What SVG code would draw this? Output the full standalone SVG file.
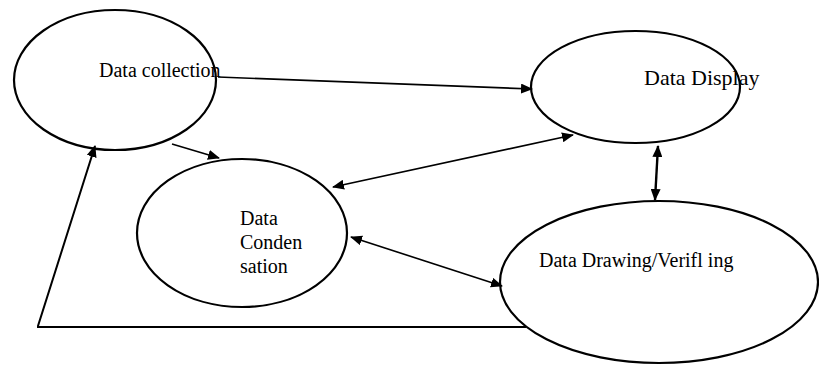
<svg xmlns="http://www.w3.org/2000/svg" width="819" height="365" viewBox="0 0 819 365">
<style>
.node{fill:#fff;stroke:#000;stroke-width:2.2}
.lbl{font-family:"Liberation Serif","Times New Roman",serif;font-size:20px;fill:#000}
.c{stroke:#000;stroke-width:1.6;fill:none}
</style>
<defs>
<marker id="ah" viewBox="0 0 12 10" refX="11" refY="5" markerWidth="12" markerHeight="10" markerUnits="userSpaceOnUse" orient="auto-start-reverse">
<path d="M0,0 L12,5 L0,10 Z" fill="#000"/>
</marker>
</defs>
<g id="n-collection">
<ellipse class="node" cx="115" cy="80" rx="101" ry="70"/>
<text class="lbl" x="99" y="77">Data collection</text>
</g>
<g id="n-display">
<ellipse class="node" cx="635.5" cy="87" rx="104.5" ry="56"/>
<text class="lbl" x="644" y="85" style="font-size:22px">Data Display</text>
</g>
<g id="n-condensation">
<ellipse class="node" cx="242" cy="233" rx="105" ry="74"/>
<text class="lbl" x="240" y="225">Data</text>
<text class="lbl" x="240" y="249">Conden</text>
<text class="lbl" x="240" y="273">sation</text>
</g>
<g id="n-drawing">
<ellipse class="node" cx="659" cy="282" rx="159" ry="81"/>
<text class="lbl" x="539" y="267">Data Drawing/Verifl ing</text>
</g>
<g id="connectors">
<line class="c" x1="218" y1="77" x2="532" y2="89" marker-end="url(#ah)"/>
<line class="c" x1="172" y1="144" x2="219" y2="158" marker-end="url(#ah)"/>
<line class="c" x1="573" y1="135" x2="333" y2="187" marker-start="url(#ah)" marker-end="url(#ah)"/>
<line class="c" x1="351" y1="237" x2="502" y2="286" marker-start="url(#ah)" marker-end="url(#ah)"/>
<line class="c" style="stroke-width:2.4" x1="658" y1="146" x2="655" y2="200" marker-start="url(#ah)" marker-end="url(#ah)"/>
<polyline class="c" style="stroke-width:2" points="526,327 38,327 38,326 95,146" marker-end="url(#ah)"/>
</g>
</svg>
